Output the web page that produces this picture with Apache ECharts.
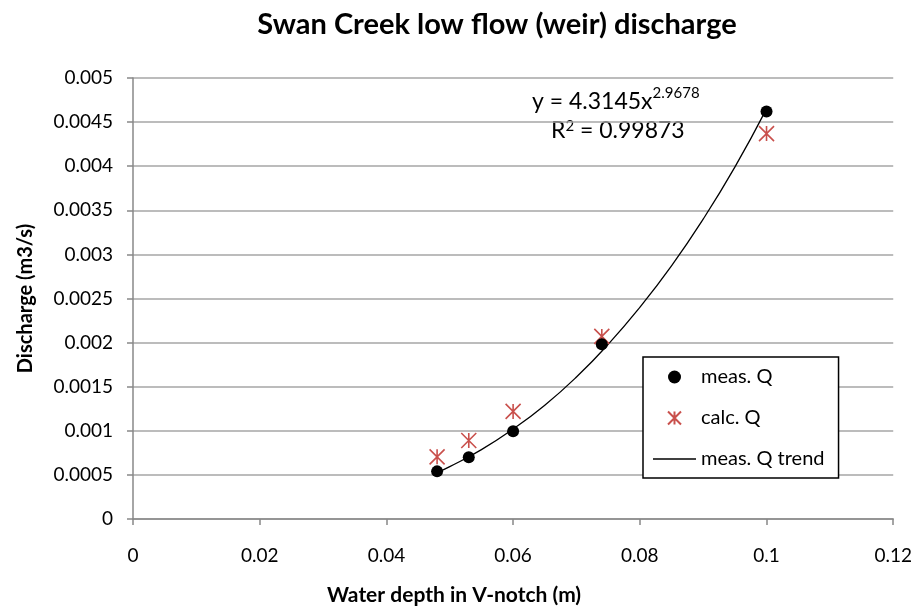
<!DOCTYPE html>
<html>
<head>
<meta charset="utf-8">
<script src="https://cdn.jsdelivr.net/npm/echarts@6/dist/echarts.min.js"></script>
<style>
  html, body { margin: 0; padding: 0; background: #fff; }
  #main { width: 915px; height: 612px; }
</style>
</head>
<body>
<div id="main"></div>
<script>
// depth (m) and discharge (m3/s)
var depth = [0.048, 0.053, 0.06, 0.074, 0.1];
var measQ = [0.00054, 0.0007, 0.000995, 0.00198, 0.00462];
var calcQ = [0.000705, 0.00089, 0.00122, 0.00207, 0.00437];
// trend curve
var trendX = [0.048, 0.05, 0.055, 0.06, 0.065, 0.07, 0.075, 0.08, 0.085, 0.09, 0.095, 0.1];
var trendY = [0.000526, 0.000593, 0.000787, 0.00102, 0.00129, 0.00161, 0.00198, 0.0024, 0.00287, 0.0034, 0.00399, 0.00465];

var font = 'Lato, "Open Sans", sans-serif';
var starPath = 'path://M0,0L10,10M10,0L0,10M5,0L5,10';
var linePath = 'path://M0,0L100,0L100,3L0,3Z';

function pairs(xs, ys) {
  return xs.map(function (x, i) { return [x, ys[i]]; });
}

var mychart = echarts.init(document.getElementById('main'));
var option = {
  animation: false,
  backgroundColor: '#fff',
  textStyle: { fontFamily: font },
  title: {
    text: 'Swan Creek low flow (weir) discharge',
    left: 492,
    top: 5,
    textAlign: 'center',
    textStyle: { fontFamily: font, fontSize: 29, fontWeight: 'bold', color: '#000' }
  },
  grid: { left: 133, right: 18, top: 78, bottom: 93 },
  legend: {
    orient: 'vertical',
    left: 643,
    top: 357,
    backgroundColor: '#fff',
    borderColor: '#000',
    borderWidth: 1.5,
    padding: [10, 14, 9, 10],
    itemGap: 21,
    itemWidth: 43,
    itemHeight: 13,
    textStyle: { fontFamily: font, fontSize: 20, color: '#000' },
    data: [
      { name: 'meas. Q', icon: 'circle' },
      { name: 'calc. Q', icon: starPath },
      { name: 'meas. Q trend', icon: linePath }
    ]
  },
  xAxis: {
    type: 'value',
    min: 0,
    max: 0.12,
    interval: 0.02,
    name: 'Water depth in V-notch (m)',
    nameLocation: 'middle',
    nameGap: 66,
    nameTextStyle: { fontFamily: font, fontSize: 21, fontWeight: 'bold', color: '#000', padding: [0, 118, 0, 0] },
    axisLine: { lineStyle: { color: '#888', width: 1.5 } },
    axisTick: { show: true, length: 6, lineStyle: { color: '#888', width: 1.5 } },
    axisLabel: { fontFamily: font, fontSize: 19, color: '#000', margin: 27 },
    splitLine: { show: false }
  },
  yAxis: {
    type: 'value',
    min: 0,
    max: 0.005,
    interval: 0.0005,
    name: 'Discharge (m3/s)',
    nameLocation: 'middle',
    nameGap: 97,
    nameTextStyle: { fontFamily: font, fontSize: 20, fontWeight: 'bold', color: '#000' },
    axisLine: { show: true, lineStyle: { color: '#888', width: 1.5 } },
    axisTick: { show: true, length: 6, lineStyle: { color: '#888', width: 1.5 } },
    axisLabel: { fontFamily: font, fontSize: 19, color: '#000', margin: 20 },
    splitLine: { lineStyle: { color: '#a6a6a6', width: 1.5 } }
  },
  graphic: [
    {
      type: 'text',
      left: 532,
      top: 86,
      style: {
        text: '{n|y = 4.3145x}{s|2.9678}',
        rich: {
          n: { fontFamily: font, fontSize: 23, fill: '#000', verticalAlign: 'bottom' },
          s: { fontFamily: font, fontSize: 15, fill: '#000', verticalAlign: 'top', padding: [0, 0, 12, 0] }
        }
      }
    },
    {
      type: 'text',
      left: 551,
      top: 119,
      style: {
        text: '{n|R}{s|2}{n| = 0.99873}',
        rich: {
          n: { fontFamily: font, fontSize: 23, fill: '#000' },
          s: { fontFamily: font, fontSize: 15, fill: '#000', padding: [0, 0, 9, 0] }
        }
      }
    }
  ],
  series: [
    {
      name: 'meas. Q trend',
      type: 'line',
      smooth: true,
      showSymbol: false,
      symbol: 'none',
      lineStyle: { color: '#000', width: 1.3 },
      itemStyle: { color: '#000' },
      data: pairs(trendX, trendY),
      z: 2
    },
    {
      name: 'calc. Q',
      type: 'scatter',
      symbol: starPath,
      symbolSize: 15,
      itemStyle: { color: 'transparent', borderColor: '#c9504c', borderWidth: 1.6, opacity: 1 },
      data: pairs(depth, calcQ),
      z: 3
    },
    {
      name: 'meas. Q',
      type: 'scatter',
      symbol: 'circle',
      symbolSize: 12,
      itemStyle: { color: '#000', opacity: 1 },
      data: pairs(depth, measQ),
      z: 4
    }
  ]
};
mychart.setOption(option);
</script>
</body>
</html>
